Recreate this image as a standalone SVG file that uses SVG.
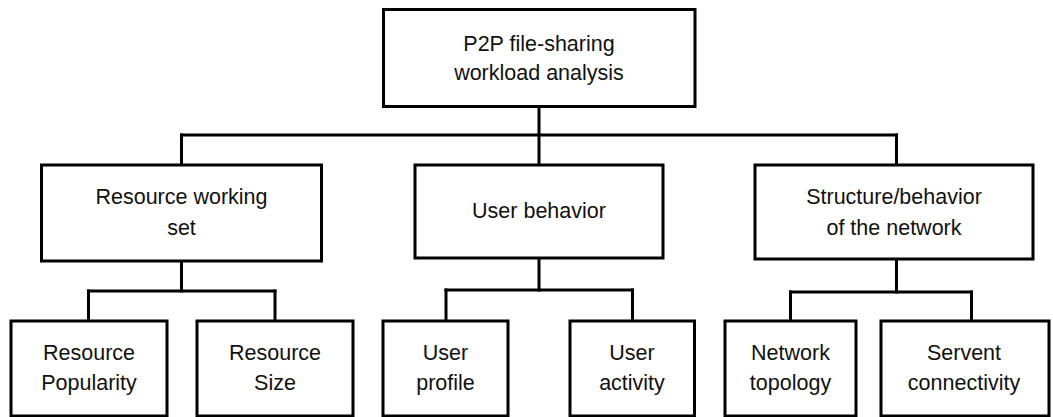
<svg xmlns="http://www.w3.org/2000/svg" width="1053" height="417" viewBox="0 0 1053 417">
<style>
rect.box{fill:#fff;stroke:#000;stroke-width:3}
#connectors line{stroke:#000;stroke-width:3;stroke-linecap:square}
text{font-family:"Liberation Sans",Arial,sans-serif;font-size:21.5px;fill:#111;text-anchor:middle}
</style>
<rect width="1053" height="417" fill="#fff"/>
<g id="connectors">
<line x1="539" y1="107" x2="539" y2="135"/>
<line x1="181.5" y1="135" x2="896.5" y2="135"/>
<line x1="181.5" y1="135" x2="181.5" y2="165"/>
<line x1="539" y1="135" x2="539" y2="165"/>
<line x1="896.5" y1="135" x2="896.5" y2="165"/>
<line x1="181.5" y1="261" x2="181.5" y2="291"/>
<line x1="88.5" y1="291" x2="275" y2="291"/>
<line x1="88.5" y1="291" x2="88.5" y2="321"/>
<line x1="275" y1="291" x2="275" y2="321"/>
<line x1="539" y1="258" x2="539" y2="290"/>
<line x1="446" y1="290" x2="632.5" y2="290"/>
<line x1="446" y1="290" x2="446" y2="321"/>
<line x1="632.5" y1="290" x2="632.5" y2="321"/>
<line x1="896.5" y1="259" x2="896.5" y2="292"/>
<line x1="790.5" y1="292" x2="971.5" y2="292"/>
<line x1="790.5" y1="292" x2="790.5" y2="321"/>
<line x1="971.5" y1="292" x2="971.5" y2="321"/>
</g>
<g id="root">
<rect class="box" x="383.5" y="9.5" width="311.5" height="97"/>
<text x="539" y="51">P2P file-sharing</text>
<text x="539" y="80">workload analysis</text>
</g>
<g id="resource-working-set">
<rect class="box" x="41.5" y="165" width="280" height="96"/>
<text x="181.5" y="204">Resource working</text>
<text x="181.5" y="235">set</text>
</g>
<g id="user-behavior">
<rect class="box" x="415" y="165" width="248" height="93"/>
<text x="539" y="218">User behavior</text>
</g>
<g id="structure-behavior">
<rect class="box" x="755" y="165" width="278" height="94"/>
<text x="894" y="204">Structure/behavior</text>
<text x="894" y="235">of the network</text>
</g>
<g id="resource-popularity">
<rect class="box" x="11" y="321" width="156" height="95"/>
<text x="89" y="359.5">Resource</text>
<text x="89" y="390">Popularity</text>
</g>
<g id="resource-size">
<rect class="box" x="197" y="321" width="156" height="95"/>
<text x="275" y="359.5">Resource</text>
<text x="275" y="390">Size</text>
</g>
<g id="user-profile">
<rect class="box" x="383" y="321" width="125" height="95"/>
<text x="445.5" y="359.5">User</text>
<text x="445.5" y="390">profile</text>
</g>
<g id="user-activity">
<rect class="box" x="570" y="321" width="124.5" height="95"/>
<text x="632" y="359.5">User</text>
<text x="632" y="390">activity</text>
</g>
<g id="network-topology">
<rect class="box" x="725" y="321" width="131" height="95"/>
<text x="790.5" y="359.5">Network</text>
<text x="790.5" y="390">topology</text>
</g>
<g id="servent-connectivity">
<rect class="box" x="881" y="321" width="168" height="95"/>
<text x="964" y="359.5">Servent</text>
<text x="964" y="390">connectivity</text>
</g>
</svg>
